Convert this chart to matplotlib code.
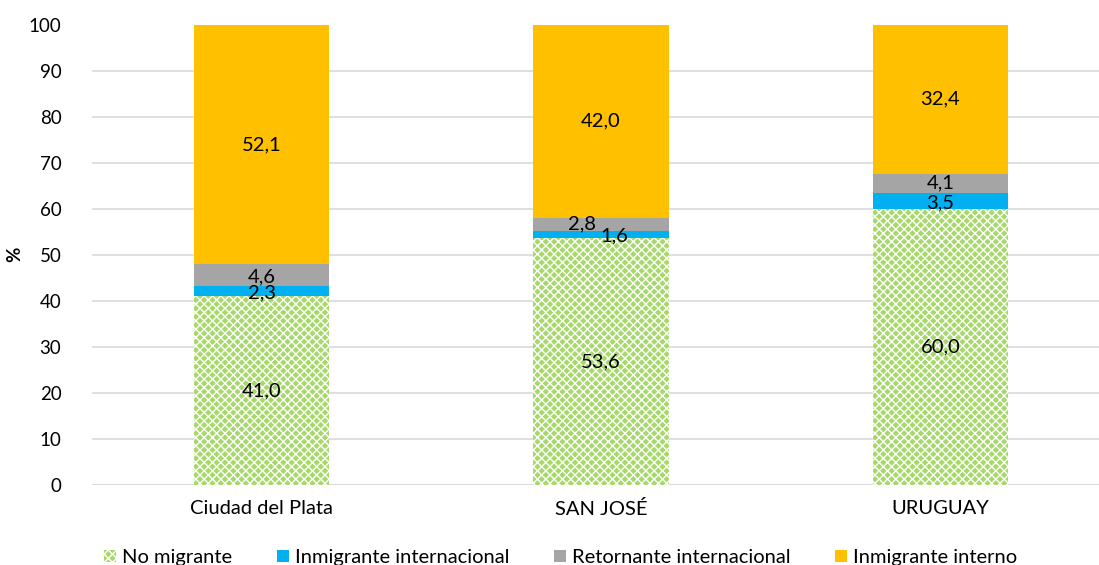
import numpy as np
import matplotlib
matplotlib.use("Agg")
import matplotlib.pyplot as plt

plt.rcParams['font.family'] = ['Lato', 'DejaVu Sans']
plt.rcParams['hatch.linewidth'] = 1.0

categorias = ["Ciudad del Plata", "SAN JOSÉ", "URUGUAY"]
no_migrante = [41.0, 53.6, 60.0]
inmig_internacional = [2.3, 1.6, 3.5]
retornante = [4.6, 2.8, 4.1]
inmig_interno = [52.1, 42.0, 32.4]

series = ["No migrante", "Inmigrante internacional", "Retornante internacional", "Inmigrante interno"]
colores = ["#a6d86a", "#00b0f0", "#a5a5a5", "#ffc000"]

fig = plt.figure(figsize=(10.99, 5.65), dpi=100)
# axes pixel box: left 92, right ~1110 (chart cropped on the right), y 24.5..485
ax = fig.add_axes([92 / 1099, 1 - 485 / 565, 1018 / 1099, (485 - 24.5) / 565])

x = np.arange(len(categorias))
w = 0.398
valores = [no_migrante, inmig_internacional, retornante, inmig_interno]
bottom = np.zeros(len(categorias))
handles = []
for i, (vals, col, name) in enumerate(zip(valores, colores, series)):
    if i == 0:
        b = ax.bar(x, vals, w, bottom=bottom, color=col, edgecolor="white",
                   hatch="xxxx", linewidth=0, label=name, zorder=2)
    else:
        b = ax.bar(x, vals, w, bottom=bottom, color=col, linewidth=0,
                   label=name, zorder=2)
    handles.append(b)
    for j, v in enumerate(vals):
        xc = x[j]
        yc = bottom[j] + v / 2
        # small segments in SAN JOSÉ are offset to avoid overlap
        if j == 1 and i == 1:
            xc += 0.04
            yc -= 0.3
        if j == 1 and i == 2:
            xc -= 0.055
        if i == 1 and j != 1:
            yc -= 0.4
        if i == 2 and j == 0:
            yc -= 0.3
        ax.text(xc, yc, f"{v:.1f}".replace(".", ","), ha="center", va="center",
                fontsize=14.5, color="black", zorder=3)
    bottom += np.array(vals)

ax.set_xlim(-0.5, 2.5)
ax.set_ylim(0, 100)
ax.set_yticks(np.arange(0, 101, 10))
ax.set_xticks(x)
ax.set_xticklabels(categorias, fontsize=14.5)
ax.tick_params(axis="both", length=0, colors="black")
ax.tick_params(axis="y", labelsize=13.5, pad=22)
ax.tick_params(axis="x", pad=11)
ax.grid(axis="y", color="#d9d9d9", linewidth=1.2, zorder=0)
ax.set_axisbelow(True)
for s in ax.spines.values():
    s.set_visible(False)
ax.axhline(0, color="#d9d9d9", linewidth=1.2, zorder=1)
ax.set_ylabel("%", fontsize=13.5, fontweight="bold")
ax.yaxis.set_label_coords(-0.068, 0.5)

fig.legend(handles=handles, labels=series, loc="center", ncol=4,
           bbox_to_anchor=(0.51, 0.013), frameon=False, fontsize=14.5,
           handlelength=0.6, handleheight=0.6, handletextpad=0.3, columnspacing=2.2)

fig.savefig("out.png", dpi=100)
